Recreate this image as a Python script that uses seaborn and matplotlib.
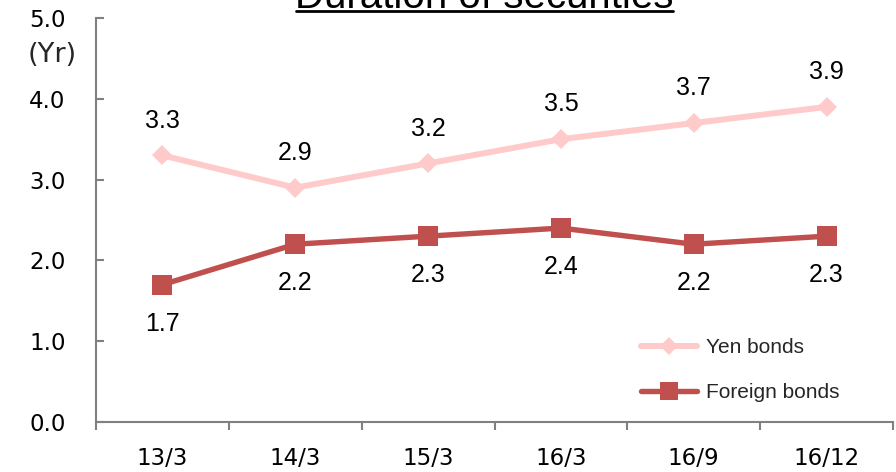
import matplotlib
matplotlib.use("Agg")
import matplotlib.pyplot as plt
from matplotlib.lines import Line2D
import seaborn as sns
import pandas as pd

# Fiscal periods and portfolio duration (years)
periods = ["13/3", "14/3", "15/3", "16/3", "16/9", "16/12"]
yen_bonds = [3.3, 2.9, 3.2, 3.5, 3.7, 3.9]
foreign_bonds = [1.7, 2.2, 2.3, 2.4, 2.2, 2.3]

yen_color = "#FFCACA"
foreign_color = "#C0504D"
axis_color = "#808080"

sns.set_theme(style="white")
plt.rcParams["font.family"] = ["DejaVu Sans"]

df = pd.DataFrame({"period": periods, "yen": yen_bonds, "foreign": foreign_bonds})

fig = plt.figure(figsize=(8.96, 4.72), dpi=100)
ax = fig.add_axes([96 / 896, 50 / 472, 797 / 896, 404 / 472])

sns.lineplot(data=df, x="period", y="yen", ax=ax, color=yen_color, linewidth=4.3,
             marker="D", markersize=10.5, markeredgewidth=0, label="Yen bonds", sort=False)
sns.lineplot(data=df, x="period", y="foreign", ax=ax, color=foreign_color, linewidth=3.9,
             marker="s", markersize=14.5, markeredgewidth=0, label="Foreign bonds", sort=False)

# Value labels: yen above, foreign below
label_font = dict(family="Liberation Sans", fontsize=18, color="black")
for i, v in enumerate(yen_bonds):
    ax.annotate(f"{v:.1f}", (i, v), xytext=(0, 25), textcoords="offset points",
                ha="center", va="center", **label_font)
for i, v in enumerate(foreign_bonds):
    ax.annotate(f"{v:.1f}", (i, v), xytext=(0, -28), textcoords="offset points",
                ha="center", va="center", **label_font)

ax.set_xlim(-0.5, len(periods) - 0.5)
ax.set_ylim(0, 5)
ax.set_yticks([0, 1, 2, 3, 4, 5])
ax.set_yticklabels([f"{t:.1f}" for t in [0, 1, 2, 3, 4, 5]])
ax.set_xticks(range(len(periods)))
ax.set_xticklabels(periods)
ax.set_xticks([i - 0.5 for i in range(len(periods) + 1)], minor=True)
ax.set_xlabel("")
ax.set_ylabel("")

for side in ["top", "right"]:
    ax.spines[side].set_visible(False)
for side in ["left", "bottom"]:
    ax.spines[side].set_color(axis_color)
    ax.spines[side].set_linewidth(1.5)

ax.tick_params(axis="x", which="major", length=0, pad=18, labelsize=16.5, colors="black")
ax.tick_params(axis="x", which="minor", length=6, width=1.5, direction="out",
               color=axis_color, bottom=True)
ax.tick_params(axis="y", which="major", length=6, width=1.5, direction="in",
               color=axis_color, pad=22, labelsize=16.5, left=True, labelcolor="black")

# Unit label under the top tick
fig.text(52 / 896, 1 - 55 / 472, "(Yr)", ha="center", va="center", fontsize=19.5)

# Legend in the lower right
ax.legend(loc="center left", bbox_to_anchor=(641 / 896, 1 - 370 / 472),
          bbox_transform=fig.transFigure, frameon=False, borderpad=0, borderaxespad=0,
          handlelength=2.7, handletextpad=0.4, labelspacing=1.25, markerscale=0.85,
          prop={"family": "Liberation Sans", "size": 15})

# Underlined title, partly above the canvas
fig.text(484.5 / 896, 1 - 8 / 472, "Duration of securities", ha="center", va="baseline",
         fontsize=29, family="Liberation Sans", color="black")
fig.add_artist(Line2D([296 / 896, 673 / 896], [1 - 11 / 472, 1 - 11 / 472],
                      transform=fig.transFigure, color="black", linewidth=2))

fig.savefig("out.png", dpi=100)
